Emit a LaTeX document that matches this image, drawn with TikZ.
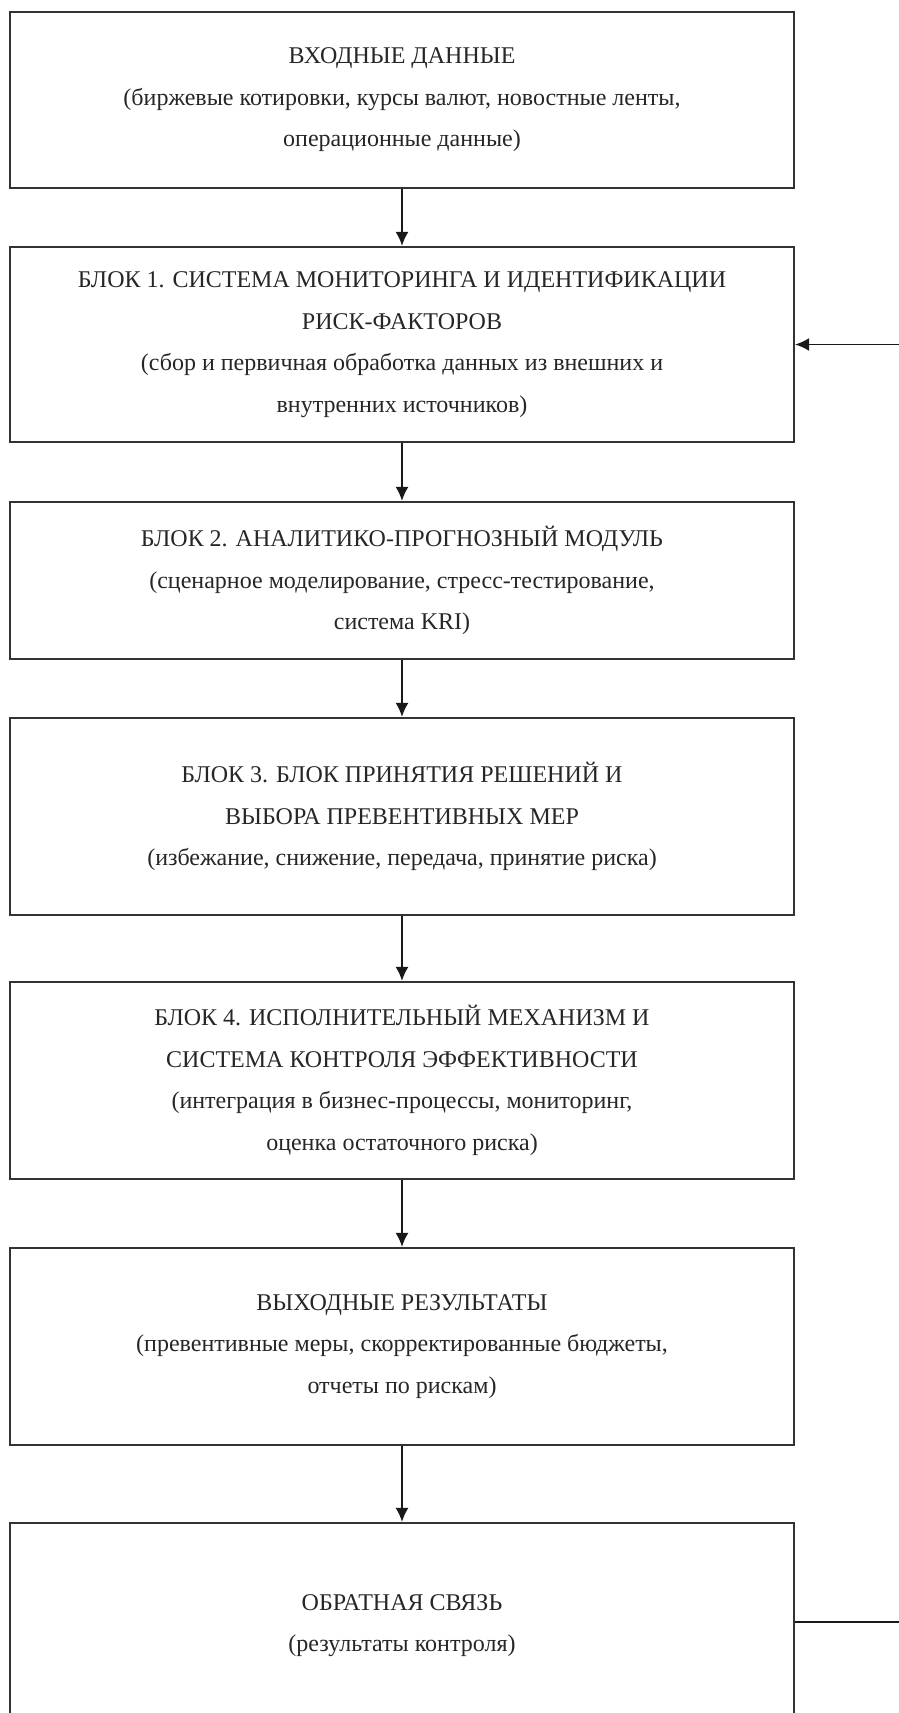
\documentclass[tikz,border=0pt]{standalone}
\usepackage{fontspec}
\setmainfont{Liberation Serif}
\usetikzlibrary{arrows.meta}
\begin{document}
\begin{tikzpicture}[x=0.5pt,y=-0.5pt]
	\tikzstyle{fleche}=[->,>={Latex[length=7pt,width=6.5pt]},line width=0.9pt,draw=black!90]
	\tikzstyle{bloc}=[draw=black!80,line width=1.1pt,minimum width=392pt,inner sep=0pt,align=center,text=black!85,font={\fontsize{12}{20.75}\selectfont}]
	\def\Centre{402}\def\Droite{910}
	%
	\useasboundingbox (0,0) rectangle (899,1713);
	\node[bloc,minimum height=88pt] (Entree) at (\Centre,100) {ВХОДНЫЕ ДАННЫЕ\\(биржевые котировки, курсы валют, новостные ленты,\\операционные данные)};
	\node[bloc,minimum height=97.5pt] (Bloc1) at (\Centre,344.5) {БЛОК 1. СИСТЕМА МОНИТОРИНГА И ИДЕНТИФИКАЦИИ\\РИСК-ФАКТОРОВ\\(сбор и первичная обработка данных из внешних и\\внутренних источников)};
	\node[bloc,minimum height=78.5pt] (Bloc2) at (\Centre,580.5) {БЛОК 2. АНАЛИТИКО-ПРОГНОЗНЫЙ МОДУЛЬ\\(сценарное моделирование, стресс-тестирование,\\система KRI)};
	\node[bloc,minimum height=98.5pt] (Bloc3) at (\Centre,816.5) {БЛОК 3. БЛОК ПРИНЯТИЯ РЕШЕНИЙ И\\ВЫБОРА ПРЕВЕНТИВНЫХ МЕР\\(избежание, снижение, передача, принятие риска)};
	\node[bloc,minimum height=98.5pt] (Bloc4) at (\Centre,1080.5) {БЛОК 4. ИСПОЛНИТЕЛЬНЫЙ МЕХАНИЗМ И\\СИСТЕМА КОНТРОЛЯ ЭФФЕКТИВНОСТИ\\(интеграция в бизнес-процессы, мониторинг,\\оценка остаточного риска)};
	\node[bloc,minimum height=98.5pt] (Sortie) at (\Centre,1346.5) {ВЫХОДНЫЕ РЕЗУЛЬТАТЫ\\(превентивные меры, скорректированные бюджеты,\\отчеты по рискам)};
	\node[bloc,minimum height=102.5pt] (Retour) at (\Centre,1625.5) {ОБРАТНАЯ СВЯЗЬ\\(результаты контроля)};
	\coordinate (Boucle) at (\Droite,1622);
	%
	\draw[fleche] (Entree)--(Bloc1);
	\draw[fleche] (Bloc1)--(Bloc2);
	\draw[fleche] (Bloc2)--(Bloc3);
	\draw[fleche] (Bloc3)--(Bloc4);
	\draw[fleche] (Bloc4)--(Sortie);
	\draw[fleche] (Sortie)--(Retour);
	\draw[fleche] (Retour.east|-Boucle)--(Boucle)|-(Bloc1.east);
\end{tikzpicture}
\end{document}
